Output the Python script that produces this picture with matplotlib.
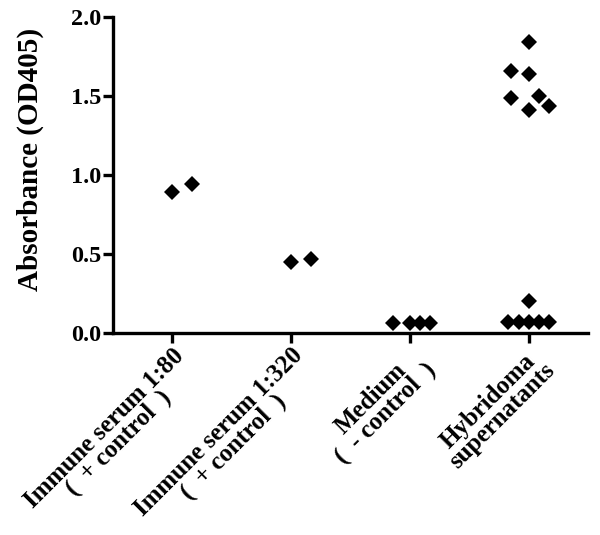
import matplotlib
matplotlib.use("Agg")
import matplotlib.pyplot as plt

plt.rcParams["font.family"] = ["Liberation Serif", "DejaVu Serif"]
plt.rcParams["font.weight"] = "bold"

# --- Data ---
groups = [
    "Immune serum 1:80\n(  + control  )",
    "Immune serum 1:320\n(  + control  )",
    "Medium\n(  - control  )",
    "Hybridoma\nsupernatants",
]

serum80_vals = [0.89, 0.94]
serum80_off = [0.0, 0.17]

serum320_vals = [0.45, 0.47]
serum320_off = [0.0, 0.17]

medium_vals = [0.06, 0.06, 0.06, 0.06]
medium_off = [-0.14, 0.0, 0.085, 0.17]

hybridoma_vals = [1.84, 1.66, 1.64, 1.50, 1.49, 1.44, 1.41,
                  0.20, 0.07, 0.07, 0.07, 0.07, 0.07]
hybridoma_off = [0.0, -0.15, 0.0, 0.085, -0.15, 0.17, 0.0,
                 0.0, -0.17, -0.085, 0.0, 0.085, 0.17]

yticks = [0.0, 0.5, 1.0, 1.5, 2.0]

# --- Plot ---
fig = plt.figure(figsize=(6.0, 5.35), dpi=100)
ax = fig.add_axes([0.188, 0.378, 0.792, 0.590])

series = [
    (serum80_vals, serum80_off),
    (serum320_vals, serum320_off),
    (medium_vals, medium_off),
    (hybridoma_vals, hybridoma_off),
]
for i, (vals, offs) in enumerate(series):
    xs = [i + o for o in offs]
    ax.plot(xs, vals, linestyle="none", marker="D", markersize=8,
            color="black", markeredgewidth=0, clip_on=False)

ax.set_xlim(-0.5, 3.5)
ax.set_ylim(0, 2.0)
ax.set_yticks(yticks)
ax.set_yticklabels([f"{v:.1f}" for v in yticks], fontsize=17.5, fontweight="bold")
ax.set_xticks(range(len(groups)))
ax.set_xticklabels(groups, rotation=45, ha="right", rotation_mode="anchor",
                   multialignment="center", fontsize=18, fontweight="bold",
                   linespacing=0.85)

ax.set_ylabel("Absorbance (OD405)", fontsize=21, fontweight="bold")
ax.yaxis.set_label_coords(-0.145, 0.55)

for side in ("top", "right"):
    ax.spines[side].set_visible(False)
for side in ("left", "bottom"):
    ax.spines[side].set_linewidth(2.4)
ax.tick_params(axis="both", width=2.4, length=7, direction="out", pad=1)

fig.savefig("out.png", dpi=100)
